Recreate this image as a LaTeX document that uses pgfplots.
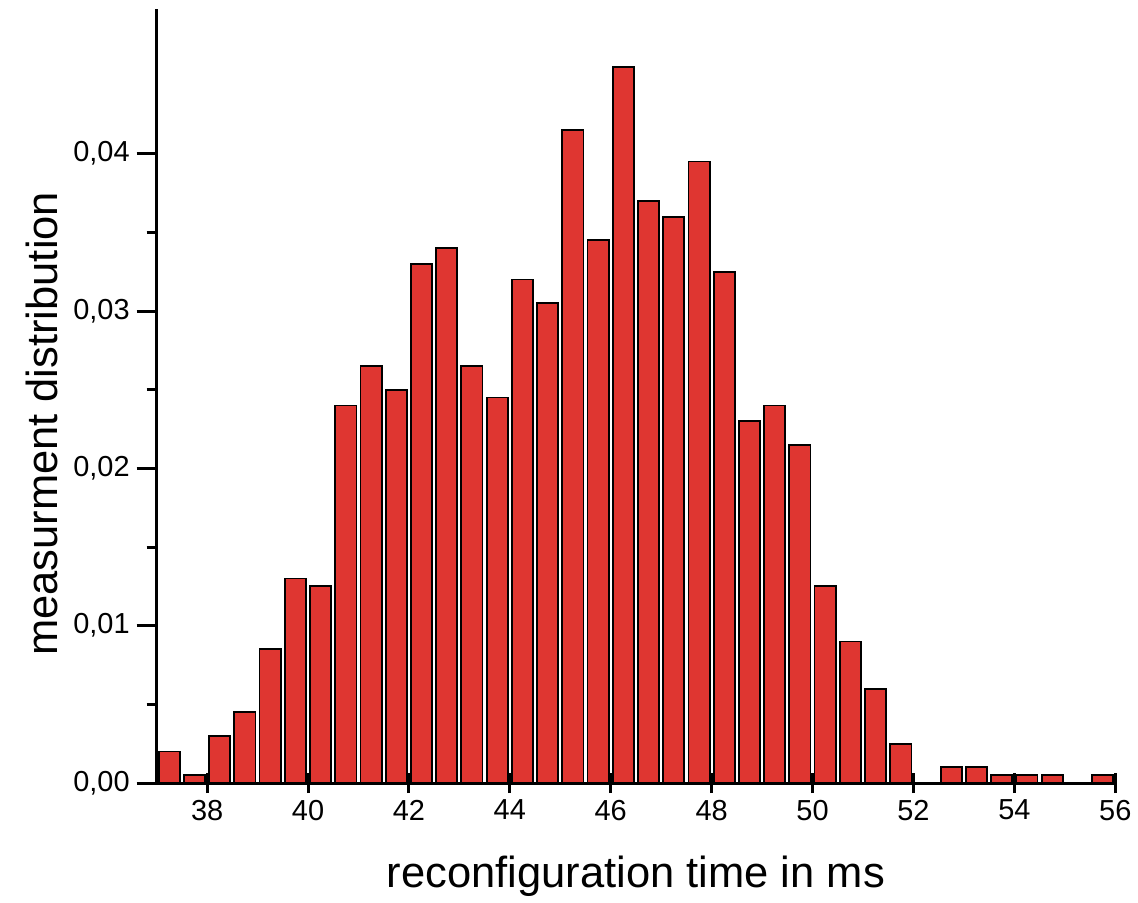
\documentclass[border=0pt]{standalone}
\usepackage{pgfplots}
\pgfplotsset{compat=1.18}
\usepackage{fontspec}
\setmainfont{Liberation Sans}
\definecolor{barred}{HTML}{DF3631}

\begin{document}
\begin{tikzpicture}
\begin{axis}[
    scale only axis,
    width=480.5pt, height=388pt,
    xmin=37, xmax=56, ymin=0, ymax=0.0492,
    axis x line*=bottom, axis y line*=left,
    axis line style={line width=1.5pt},
    xtick={38,40,...,56},
    ytick={0,0.01,0.02,0.03,0.04},
    minor y tick num=1,
    xtick align=center, ytick align=outside,
    major tick length=10pt, minor tick length=5pt,
    every tick/.style={black, line width=1.5pt},
    scaled y ticks=false,
    yticklabel style={/pgf/number format/.cd, fixed, fixed zerofill, precision=2, use comma},
    /pgf/number format/assume math mode=true,
    tick label style={font=\fontsize{14.5}{17}\selectfont},
    label style={font=\fontsize{21.8}{26}\selectfont},
    xlabel={reconfiguration time in ms},
    ylabel={measurment distribution},
    xlabel style={at={(axis description cs:0.5,-0.12)}, anchor=center},
    ylabel style={at={(axis description cs:-0.12,0.464)}, anchor=center},
    clip=false,
]
% histogram, bins of 0.5 ms
\addplot[ybar, bar width=0.42, fill=barred, draw=black, line width=0.9pt] coordinates {
    (37.25, 0.0020) (37.75, 0.0005) (38.25, 0.0030) (38.75, 0.0045)
    (39.25, 0.0085) (39.75, 0.0130) (40.25, 0.0125) (40.75, 0.0240)
    (41.25, 0.0265) (41.75, 0.0250) (42.25, 0.0330) (42.75, 0.0340)
    (43.25, 0.0265) (43.75, 0.0245) (44.25, 0.0320) (44.75, 0.0305)
    (45.25, 0.0415) (45.75, 0.0345) (46.25, 0.0455) (46.75, 0.0370)
    (47.25, 0.0360) (47.75, 0.0395) (48.25, 0.0325) (48.75, 0.0230)
    (49.25, 0.0240) (49.75, 0.0215) (50.25, 0.0125) (50.75, 0.0090)
    (51.25, 0.0060) (51.75, 0.0025) (52.75, 0.0010) (53.25, 0.0010)
    (53.75, 0.0005) (54.25, 0.0005) (54.75, 0.0005) (55.75, 0.0005)
};
\path (axis description cs:-0.1634,-0.1495) rectangle (axis description cs:1.0208,1.0116);
\end{axis}
\end{tikzpicture}
\end{document}
